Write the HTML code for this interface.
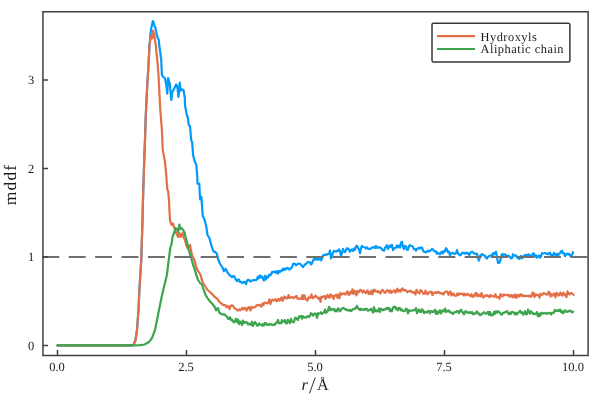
<!DOCTYPE html>
<html><head><meta charset="utf-8"><title>mddf</title>
<style>html,body{margin:0;padding:0;background:#fff;width:600px;height:400px;overflow:hidden}
svg{display:block;will-change:transform}
text{font-family:"Liberation Serif",serif;text-rendering:geometricPrecision}</style></head>
<body>
<svg width="600" height="400" viewBox="0 0 600 400">
<rect x="0" y="0" width="600" height="400" fill="#fff"/>
<g fill="none" stroke-linejoin="round" stroke-linecap="round" stroke-width="2.20">
<path d="M57.50 345.40 L132.00 345.40 L133.50 345.00 L135.50 340.00 L137.00 330.00 L138.50 310.00 L139.40 290.00 L141.25 260.00 L141.90 240.00 L142.50 220.00 L143.10 195.00 L144.40 155.00 L145.00 140.00 L145.60 120.00 L146.25 105.00 L147.30 85.00 L148.50 65.00 L149.00 55.00 L149.50 45.00 L150.00 40.00 L150.40 35.00 L150.90 30.00 L152.00 25.00 L152.80 21.20 L153.50 22.00 L154.50 26.00 L155.50 28.00 L156.20 32.00 L157.00 36.00 L158.00 38.50 L158.80 40.00 L159.20 45.00 L160.00 50.00 L160.60 55.00 L161.25 60.00 L161.90 75.00 L163.10 76.90 L165.00 78.10 L166.25 85.00 L167.25 93.75 L168.10 78.10 L169.75 83.75 L171.25 100.00 L172.50 91.25 L173.75 89.40 L175.00 86.90 L176.25 84.40 L177.25 86.25 L178.50 96.90 L179.75 82.50 L180.60 90.60 L181.90 89.40 L183.50 90.00 L184.75 97.50 L185.00 105.00 L186.90 115.60 L187.75 116.90 L188.75 125.00 L190.00 126.25 L191.25 140.60 L192.10 141.90 L193.10 155.00 L194.25 159.80 L196.30 165.00 L197.20 175.00 L197.50 183.60 L199.25 183.60 L200.10 199.40 L201.40 196.80 L202.75 216.00 L204.50 219.50 L206.20 226.00 L207.50 235.00 L209.40 238.00 L211.25 245.00 L213.50 251.50 L215.00 251.90 L216.90 253.75 L218.00 258.75 L220.00 263.75 L222.50 267.50 L224.00 271.25 L225.60 268.75 L227.50 272.50 L230.00 275.60 L231.00 276.24 L232.00 277.11 L233.00 276.11 L234.00 276.03 L235.00 278.03 L236.00 279.58 L237.00 281.20 L238.00 279.51 L239.00 279.70 L240.00 281.96 L241.00 281.82 L242.00 282.98 L243.00 282.63 L244.00 281.85 L245.00 281.98 L246.00 284.16 L247.00 280.64 L248.00 279.95 L249.00 279.85 L250.00 281.35 L251.00 281.14 L252.00 280.39 L253.00 280.30 L254.00 280.15 L255.00 280.09 L256.00 280.24 L257.00 279.09 L258.00 276.59 L259.00 278.34 L260.00 275.48 L261.00 277.21 L262.00 276.39 L263.00 279.15 L264.00 280.47 L265.00 275.81 L266.00 279.42 L267.00 276.59 L268.00 277.48 L269.00 274.80 L270.00 275.31 L271.00 274.52 L272.00 272.03 L273.00 271.87 L274.00 272.10 L275.00 271.49 L276.00 272.82 L277.00 271.21 L278.00 273.64 L279.00 271.00 L280.00 271.94 L281.00 270.51 L282.00 270.72 L283.00 268.67 L284.00 270.01 L285.00 268.63 L286.00 269.27 L287.00 267.89 L288.00 268.07 L289.00 269.22 L290.00 269.50 L291.00 267.83 L292.00 267.52 L293.00 264.02 L294.00 263.69 L295.00 263.84 L296.00 265.28 L297.00 264.58 L298.00 263.93 L299.00 263.65 L300.00 263.74 L301.00 264.72 L302.00 265.95 L303.00 267.11 L304.00 265.58 L305.00 264.65 L306.00 263.64 L307.00 263.08 L308.00 262.08 L309.00 262.02 L310.00 262.37 L311.00 264.47 L312.00 263.49 L313.00 260.71 L314.00 258.99 L315.00 259.72 L316.00 259.37 L317.00 256.86 L318.00 259.93 L319.00 259.28 L320.00 257.68 L321.00 260.47 L322.00 258.79 L323.00 255.37 L324.00 255.14 L325.00 254.62 L326.00 254.87 L327.00 254.46 L328.00 253.81 L329.00 253.85 L330.00 250.49 L331.00 258.29 L332.00 256.41 L333.00 252.81 L334.00 250.83 L335.00 251.23 L336.00 251.64 L337.00 250.93 L338.00 250.95 L339.00 249.32 L340.00 251.25 L341.00 255.65 L342.00 252.97 L343.00 248.88 L344.00 251.32 L345.00 252.08 L346.00 250.32 L347.00 248.24 L348.00 248.59 L349.00 249.38 L350.00 251.81 L351.00 250.02 L352.00 249.51 L353.00 250.96 L354.00 248.56 L355.00 249.74 L356.00 246.40 L357.00 245.78 L358.00 247.90 L359.00 249.52 L360.00 253.15 L361.00 248.40 L362.00 245.95 L363.00 246.97 L364.00 247.23 L365.00 247.47 L366.00 248.43 L367.00 247.34 L368.00 248.77 L369.00 248.82 L370.00 249.17 L371.00 248.38 L372.00 247.45 L373.00 247.63 L374.00 247.03 L375.00 248.02 L376.00 245.89 L377.00 247.85 L378.00 247.70 L379.00 247.07 L380.00 247.77 L381.00 247.75 L382.00 249.90 L383.00 249.81 L384.00 250.78 L385.00 247.85 L386.00 246.82 L387.00 245.16 L388.00 248.89 L389.00 247.43 L390.00 245.39 L391.00 246.94 L392.00 244.91 L393.00 250.12 L394.00 248.24 L395.00 248.17 L396.00 247.42 L397.00 245.46 L398.00 247.35 L399.00 245.69 L400.00 247.60 L401.00 242.66 L402.00 241.69 L403.00 247.15 L404.00 249.04 L405.00 245.82 L406.00 246.47 L407.00 249.88 L408.00 249.60 L409.00 246.26 L410.00 245.06 L411.00 245.80 L412.00 246.04 L413.00 247.05 L414.00 249.24 L415.00 248.94 L416.00 250.57 L417.00 248.68 L418.00 248.68 L419.00 247.68 L420.00 248.38 L421.00 247.59 L422.00 247.52 L423.00 250.50 L424.00 251.84 L425.00 251.84 L426.00 252.49 L427.00 251.57 L428.00 250.68 L429.00 251.49 L430.00 251.03 L431.00 250.03 L432.00 249.19 L433.00 249.35 L434.00 251.01 L435.00 251.51 L436.00 251.41 L437.00 253.83 L438.00 252.82 L439.00 253.46 L440.00 254.34 L441.00 252.54 L442.00 251.63 L443.00 253.35 L444.00 250.91 L445.00 251.32 L446.00 248.18 L447.00 249.42 L448.00 252.51 L449.00 251.77 L450.00 255.36 L451.00 253.45 L452.00 252.84 L453.00 252.92 L454.00 253.89 L455.00 253.63 L456.00 253.26 L457.00 250.09 L458.00 253.66 L459.00 254.37 L460.00 255.39 L461.00 254.83 L462.00 252.64 L463.00 253.24 L464.00 252.83 L465.00 253.78 L466.00 252.69 L467.00 253.42 L468.00 252.99 L469.00 255.00 L470.00 253.79 L471.00 251.98 L472.00 251.73 L473.00 252.45 L474.00 253.38 L475.00 253.65 L476.00 254.05 L477.00 253.64 L478.00 257.99 L479.00 260.48 L480.00 256.04 L481.00 254.94 L482.00 254.04 L483.00 254.81 L484.00 255.60 L485.00 255.63 L486.00 258.02 L487.00 258.53 L488.00 256.93 L489.00 256.27 L490.00 255.62 L491.00 255.30 L492.00 256.99 L493.00 253.00 L494.00 254.35 L495.00 253.02 L496.00 251.78 L497.00 257.17 L498.00 262.88 L499.00 263.06 L500.00 261.59 L501.00 257.38 L502.00 254.12 L503.00 255.42 L504.00 254.38 L505.00 254.27 L506.00 255.19 L507.00 256.38 L508.00 255.58 L509.00 256.00 L510.00 257.11 L511.00 258.36 L512.00 258.21 L513.00 254.24 L514.00 255.65 L515.00 255.70 L516.00 255.35 L517.00 257.34 L518.00 258.34 L519.00 258.92 L520.00 258.05 L521.00 255.78 L522.00 258.32 L523.00 256.64 L524.00 255.87 L525.00 254.95 L526.00 255.68 L527.00 254.68 L528.00 255.38 L529.00 254.40 L530.00 255.39 L531.00 256.23 L532.00 256.11 L533.00 253.41 L534.00 253.53 L535.00 256.34 L536.00 255.31 L537.00 257.73 L538.00 256.32 L539.00 255.52 L540.00 257.69 L541.00 256.29 L542.00 253.12 L543.00 253.47 L544.00 253.26 L545.00 253.02 L546.00 253.63 L547.00 253.66 L548.00 254.31 L549.00 253.27 L550.00 252.70 L551.00 255.64 L552.00 255.00 L553.00 255.21 L554.00 252.92 L555.00 254.08 L556.00 255.57 L557.00 253.96 L558.00 256.10 L559.00 253.61 L560.00 253.40 L561.00 251.62 L562.00 250.72 L563.00 253.25 L564.00 253.20 L565.00 256.11 L566.00 254.72 L567.00 253.62 L568.00 254.31 L569.00 253.78 L570.00 255.73 L571.00 255.76 L572.00 254.81 L573.00 252.26" stroke="#009AFA"/>
<path d="M57.50 345.40 L132.00 345.40 L133.50 345.00 L135.50 340.00 L137.00 330.00 L138.50 310.00 L139.40 290.00 L141.25 260.00 L141.90 240.00 L142.50 220.00 L143.10 195.00 L144.40 155.00 L145.00 140.00 L145.60 120.00 L146.25 105.00 L147.30 85.00 L148.50 65.00 L149.00 55.00 L149.50 45.00 L150.00 42.00 L150.80 36.50 L151.50 35.50 L152.20 38.50 L153.00 30.50 L154.00 34.00 L155.00 40.00 L156.00 47.00 L156.70 55.00 L157.50 62.00 L158.50 75.00 L159.50 95.00 L160.30 110.00 L161.90 130.00 L162.75 150.00 L165.00 162.00 L166.25 175.00 L167.25 189.50 L168.10 191.00 L169.00 200.00 L169.40 210.00 L170.00 220.00 L171.00 224.00 L171.90 225.00 L173.10 223.50 L173.75 226.00 L174.40 228.00 L175.60 232.00 L177.25 235.00 L178.10 237.00 L179.40 233.00 L180.60 237.00 L182.50 233.00 L183.75 238.00 L185.00 240.00 L186.25 245.00 L187.50 248.00 L190.00 245.00 L191.90 255.00 L194.40 260.00 L195.60 265.00 L197.50 270.00 L199.40 273.00 L200.60 275.00 L201.90 280.00 L203.00 283.00 L205.00 286.00 L207.50 290.00 L210.00 292.00 L212.50 294.40 L215.00 297.20 L217.50 299.00 L219.40 301.90 L222.50 304.40 L223.50 305.18 L224.50 305.00 L225.50 305.11 L226.50 307.25 L227.50 306.34 L228.50 306.15 L229.50 309.11 L230.50 306.32 L231.50 305.44 L232.50 305.41 L233.50 306.64 L234.50 308.30 L235.50 308.71 L236.50 309.28 L237.50 310.41 L238.50 310.44 L239.50 309.27 L240.50 310.23 L241.50 309.28 L242.50 307.61 L243.50 309.35 L244.50 308.28 L245.50 307.83 L246.50 310.60 L247.50 308.88 L248.50 307.11 L249.50 307.53 L250.50 310.51 L251.50 306.87 L252.50 307.91 L253.50 307.51 L254.50 307.12 L255.50 306.97 L256.50 305.31 L257.50 305.09 L258.50 305.24 L259.50 304.73 L260.50 306.01 L261.50 306.73 L262.50 303.28 L263.50 304.92 L264.50 302.66 L265.50 302.79 L266.50 303.13 L267.50 303.34 L268.50 302.37 L269.50 299.26 L270.50 303.97 L271.50 300.93 L272.50 299.59 L273.50 300.47 L274.50 299.95 L275.50 299.24 L276.50 301.35 L277.50 300.85 L278.50 298.80 L279.50 300.58 L280.50 299.62 L281.50 297.36 L282.50 300.88 L283.50 298.65 L284.50 296.52 L285.50 298.32 L286.50 297.59 L287.50 298.40 L288.50 295.04 L289.50 297.89 L290.50 297.61 L291.50 297.29 L292.50 297.18 L293.50 298.10 L294.50 297.32 L295.50 296.72 L296.50 295.81 L297.50 298.74 L298.50 298.93 L299.50 298.38 L300.50 298.42 L301.50 299.27 L302.50 295.10 L303.50 298.94 L304.50 295.33 L305.50 298.88 L306.50 299.73 L307.50 300.62 L308.50 297.28 L309.50 298.24 L310.50 297.41 L311.50 294.45 L312.50 298.23 L313.50 297.12 L314.50 297.11 L315.50 295.75 L316.50 297.00 L317.50 297.22 L318.50 298.86 L319.50 297.62 L320.50 301.83 L321.50 296.63 L322.50 296.76 L323.50 296.98 L324.50 295.92 L325.50 298.88 L326.50 297.60 L327.50 294.93 L328.50 296.61 L329.50 297.85 L330.50 294.33 L331.50 296.28 L332.50 295.65 L333.50 298.92 L334.50 296.27 L335.50 295.06 L336.50 294.74 L337.50 297.85 L338.50 294.63 L339.50 298.13 L340.50 292.88 L341.50 294.43 L342.50 294.12 L343.50 293.26 L344.50 293.66 L345.50 294.61 L346.50 292.59 L347.50 291.35 L348.50 294.78 L349.50 294.71 L350.50 291.75 L351.50 293.06 L352.50 289.27 L353.50 294.03 L354.50 290.91 L355.50 291.89 L356.50 295.39 L357.50 290.80 L358.50 292.41 L359.50 290.89 L360.50 289.81 L361.50 290.70 L362.50 292.57 L363.50 290.47 L364.50 291.39 L365.50 293.11 L366.50 291.92 L367.50 290.38 L368.50 294.06 L369.50 292.23 L370.50 293.90 L371.50 290.65 L372.50 294.23 L373.50 290.21 L374.50 289.67 L375.50 291.38 L376.50 291.40 L377.50 292.19 L378.50 291.06 L379.50 292.59 L380.50 293.46 L381.50 290.80 L382.50 289.80 L383.50 291.03 L384.50 292.60 L385.50 292.54 L386.50 290.97 L387.50 290.08 L388.50 291.31 L389.50 292.55 L390.50 290.28 L391.50 292.86 L392.50 291.38 L393.50 291.40 L394.50 290.12 L395.50 292.67 L396.50 290.86 L397.50 288.77 L398.50 291.74 L399.50 290.04 L400.50 291.48 L401.50 289.28 L402.50 288.31 L403.50 290.51 L404.50 290.25 L405.50 289.88 L406.50 291.07 L407.50 292.22 L408.50 291.29 L409.50 291.16 L410.50 290.62 L411.50 292.19 L412.50 291.87 L413.50 292.86 L414.50 292.16 L415.50 294.57 L416.50 289.78 L417.50 291.86 L418.50 292.72 L419.50 293.28 L420.50 290.16 L421.50 290.66 L422.50 292.29 L423.50 293.82 L424.50 293.96 L425.50 290.63 L426.50 292.93 L427.50 294.43 L428.50 293.06 L429.50 291.80 L430.50 292.35 L431.50 291.67 L432.50 295.13 L433.50 293.16 L434.50 292.88 L435.50 292.24 L436.50 293.15 L437.50 292.08 L438.50 291.93 L439.50 293.11 L440.50 292.80 L441.50 293.65 L442.50 293.19 L443.50 294.49 L444.50 292.82 L445.50 291.80 L446.50 291.35 L447.50 291.99 L448.50 294.80 L449.50 292.67 L450.50 291.51 L451.50 295.42 L452.50 294.81 L453.50 293.39 L454.50 295.57 L455.50 295.76 L456.50 295.60 L457.50 293.31 L458.50 295.05 L459.50 293.43 L460.50 293.95 L461.50 293.99 L462.50 293.58 L463.50 295.31 L464.50 293.59 L465.50 295.41 L466.50 294.79 L467.50 293.74 L468.50 294.73 L469.50 295.37 L470.50 295.98 L471.50 294.19 L472.50 296.85 L473.50 295.37 L474.50 296.31 L475.50 292.94 L476.50 293.37 L477.50 296.40 L478.50 294.57 L479.50 295.52 L480.50 296.53 L481.50 293.11 L482.50 295.65 L483.50 297.64 L484.50 296.18 L485.50 295.29 L486.50 295.95 L487.50 295.26 L488.50 296.31 L489.50 297.04 L490.50 295.08 L491.50 296.17 L492.50 295.85 L493.50 296.47 L494.50 296.63 L495.50 294.23 L496.50 297.33 L497.50 297.10 L498.50 296.87 L499.50 298.68 L500.50 294.14 L501.50 295.67 L502.50 296.48 L503.50 294.54 L504.50 295.04 L505.50 294.90 L506.50 295.14 L507.50 295.04 L508.50 294.65 L509.50 296.80 L510.50 295.77 L511.50 294.97 L512.50 297.35 L513.50 295.31 L514.50 297.23 L515.50 294.43 L516.50 297.90 L517.50 295.47 L518.50 294.81 L519.50 296.59 L520.50 294.30 L521.50 294.64 L522.50 296.30 L523.50 295.27 L524.50 296.34 L525.50 295.92 L526.50 295.99 L527.50 295.74 L528.50 296.42 L529.50 295.41 L530.50 296.77 L531.50 296.48 L532.50 292.59 L533.50 292.78 L534.50 297.03 L535.50 294.35 L536.50 295.13 L537.50 294.69 L538.50 295.15 L539.50 297.63 L540.50 293.77 L541.50 294.74 L542.50 294.61 L543.50 293.14 L544.50 293.37 L545.50 294.11 L546.50 294.40 L547.50 294.88 L548.50 291.80 L549.50 292.35 L550.50 296.58 L551.50 294.22 L552.50 295.56 L553.50 293.96 L554.50 293.61 L555.50 297.33 L556.50 292.98 L557.50 293.44 L558.50 295.54 L559.50 294.71 L560.50 292.57 L561.50 294.93 L562.50 295.67 L563.50 292.68 L564.50 293.90 L565.50 295.62 L566.50 297.04 L567.50 291.47 L568.50 293.56 L569.50 294.45 L570.50 293.18 L571.50 293.15 L572.50 293.63 L573.50 294.92" stroke="#E36F47"/>
<path d="M57.50 345.40 L132.50 345.40 L140.00 345.20 L144.50 344.50 L149.00 342.00 L152.00 338.00 L155.00 330.00 L158.00 315.00 L161.00 300.00 L163.20 290.00 L166.90 275.00 L168.10 265.00 L169.40 255.00 L170.25 248.00 L171.25 245.00 L171.90 242.00 L172.50 237.00 L174.40 232.00 L175.60 228.00 L176.90 229.00 L178.10 232.00 L179.40 224.50 L180.00 229.00 L181.25 228.00 L183.10 230.00 L184.40 232.00 L185.60 237.00 L186.50 240.00 L188.75 250.00 L191.25 258.00 L193.10 265.00 L195.00 270.00 L196.25 275.00 L198.10 280.00 L200.00 283.00 L201.90 284.50 L203.75 290.00 L205.60 295.00 L207.50 298.10 L210.00 301.50 L212.50 304.00 L215.00 307.50 L216.00 310.45 L217.00 308.44 L218.00 308.12 L219.00 311.79 L220.00 313.27 L221.00 313.60 L222.00 314.42 L223.00 314.25 L224.00 314.28 L225.00 314.72 L226.00 316.04 L227.00 316.46 L228.00 318.79 L229.00 319.01 L230.00 317.18 L231.00 320.12 L232.00 319.55 L233.00 321.43 L234.00 322.32 L235.00 321.46 L236.00 318.73 L237.00 322.23 L238.00 319.65 L239.00 324.07 L240.00 321.48 L241.00 322.27 L242.00 325.09 L243.00 320.57 L244.00 323.10 L245.00 321.83 L246.00 322.69 L247.00 322.45 L248.00 324.53 L249.00 323.37 L250.00 324.35 L251.00 324.79 L252.00 321.74 L253.00 325.88 L254.00 323.77 L255.00 321.96 L256.00 323.34 L257.00 325.41 L258.00 325.64 L259.00 323.48 L260.00 324.58 L261.00 324.70 L262.00 325.69 L263.00 324.09 L264.00 325.50 L265.00 322.97 L266.00 323.15 L267.00 324.93 L268.00 324.96 L269.00 323.89 L270.00 324.70 L271.00 324.10 L272.00 324.78 L273.00 325.23 L274.00 324.31 L275.00 324.64 L276.00 322.87 L277.00 322.49 L278.00 319.96 L279.00 323.45 L280.00 322.79 L281.00 323.40 L282.00 320.15 L283.00 321.93 L284.00 321.77 L285.00 320.06 L286.00 323.31 L287.00 323.39 L288.00 319.74 L289.00 321.68 L290.00 323.04 L291.00 318.90 L292.00 321.58 L293.00 322.14 L294.00 322.27 L295.00 317.74 L296.00 317.78 L297.00 319.11 L298.00 320.07 L299.00 316.44 L300.00 316.75 L301.00 316.01 L302.00 318.70 L303.00 316.23 L304.00 317.47 L305.00 317.31 L306.00 317.74 L307.00 316.49 L308.00 316.12 L309.00 316.95 L310.00 315.79 L311.00 313.22 L312.00 313.94 L313.00 315.61 L314.00 314.34 L315.00 313.43 L316.00 314.03 L317.00 317.92 L318.00 313.24 L319.00 313.75 L320.00 313.51 L321.00 312.24 L322.00 313.89 L323.00 313.14 L324.00 312.23 L325.00 309.60 L326.00 312.85 L327.00 311.96 L328.00 310.60 L329.00 306.89 L330.00 310.17 L331.00 308.56 L332.00 309.81 L333.00 309.36 L334.00 308.87 L335.00 311.25 L336.00 309.98 L337.00 311.41 L338.00 308.40 L339.00 309.37 L340.00 311.37 L341.00 309.89 L342.00 308.38 L343.00 308.06 L344.00 308.36 L345.00 308.94 L346.00 310.07 L347.00 309.45 L348.00 310.36 L349.00 310.57 L350.00 309.71 L351.00 311.17 L352.00 310.34 L353.00 309.00 L354.00 308.93 L355.00 309.03 L356.00 307.36 L357.00 305.86 L358.00 308.55 L359.00 308.67 L360.00 310.19 L361.00 308.67 L362.00 309.65 L363.00 309.83 L364.00 308.97 L365.00 309.89 L366.00 308.70 L367.00 309.12 L368.00 310.79 L369.00 310.27 L370.00 309.78 L371.00 308.77 L372.00 310.78 L373.00 312.55 L374.00 307.01 L375.00 311.35 L376.00 310.17 L377.00 311.28 L378.00 311.31 L379.00 308.33 L380.00 311.95 L381.00 308.77 L382.00 309.16 L383.00 310.27 L384.00 309.25 L385.00 309.66 L386.00 308.55 L387.00 307.79 L388.00 309.20 L389.00 307.78 L390.00 311.09 L391.00 309.69 L392.00 311.30 L393.00 307.83 L394.00 306.78 L395.00 306.58 L396.00 309.18 L397.00 308.03 L398.00 310.29 L399.00 307.93 L400.00 308.09 L401.00 310.37 L402.00 309.53 L403.00 311.01 L404.00 311.24 L405.00 310.69 L406.00 308.65 L407.00 309.17 L408.00 313.41 L409.00 310.14 L410.00 310.89 L411.00 310.72 L412.00 310.58 L413.00 310.44 L414.00 309.99 L415.00 310.12 L416.00 308.18 L417.00 313.17 L418.00 310.86 L419.00 309.32 L420.00 311.83 L421.00 312.05 L422.00 309.24 L423.00 310.49 L424.00 313.20 L425.00 311.94 L426.00 311.80 L427.00 312.58 L428.00 311.09 L429.00 310.89 L430.00 313.42 L431.00 311.07 L432.00 311.23 L433.00 312.19 L434.00 311.40 L435.00 309.71 L436.00 313.89 L437.00 311.28 L438.00 313.78 L439.00 312.07 L440.00 310.19 L441.00 313.47 L442.00 311.18 L443.00 310.28 L444.00 311.39 L445.00 308.58 L446.00 312.03 L447.00 310.57 L448.00 311.25 L449.00 310.44 L450.00 312.58 L451.00 312.21 L452.00 313.22 L453.00 314.04 L454.00 312.25 L455.00 312.04 L456.00 312.37 L457.00 310.93 L458.00 311.33 L459.00 313.12 L460.00 311.01 L461.00 309.62 L462.00 311.79 L463.00 312.64 L464.00 314.31 L465.00 311.45 L466.00 311.20 L467.00 312.62 L468.00 312.33 L469.00 312.92 L470.00 311.95 L471.00 313.00 L472.00 312.07 L473.00 314.25 L474.00 313.41 L475.00 313.90 L476.00 312.65 L477.00 311.43 L478.00 313.45 L479.00 313.46 L480.00 315.10 L481.00 314.88 L482.00 313.51 L483.00 313.45 L484.00 312.16 L485.00 313.38 L486.00 313.67 L487.00 312.80 L488.00 311.87 L489.00 314.97 L490.00 312.00 L491.00 315.39 L492.00 314.72 L493.00 315.16 L494.00 311.95 L495.00 313.86 L496.00 311.22 L497.00 312.61 L498.00 311.10 L499.00 312.18 L500.00 312.51 L501.00 314.48 L502.00 314.67 L503.00 312.78 L504.00 312.92 L505.00 312.09 L506.00 311.85 L507.00 311.03 L508.00 313.14 L509.00 314.21 L510.00 312.41 L511.00 313.90 L512.00 311.90 L513.00 312.09 L514.00 312.71 L515.00 314.59 L516.00 312.72 L517.00 314.43 L518.00 312.95 L519.00 311.95 L520.00 310.76 L521.00 312.79 L522.00 312.14 L523.00 314.60 L524.00 313.98 L525.00 311.23 L526.00 314.49 L527.00 314.07 L528.00 309.54 L529.00 311.98 L530.00 313.67 L531.00 311.24 L532.00 312.37 L533.00 314.01 L534.00 313.64 L535.00 313.90 L536.00 314.08 L537.00 312.07 L538.00 316.33 L539.00 313.84 L540.00 315.93 L541.00 312.73 L542.00 313.77 L543.00 313.45 L544.00 312.76 L545.00 313.33 L546.00 313.22 L547.00 313.91 L548.00 313.22 L549.00 312.80 L550.00 313.28 L551.00 314.46 L552.00 312.58 L553.00 313.20 L554.00 312.51 L555.00 309.67 L556.00 310.98 L557.00 310.88 L558.00 310.18 L559.00 311.11 L560.00 309.53 L561.00 312.11 L562.00 311.01 L563.00 313.35 L564.00 312.28 L565.00 310.15 L566.00 311.56 L567.00 311.94 L568.00 311.03 L569.00 311.47 L570.00 310.56 L571.00 311.06 L572.00 312.41 L573.00 311.65" stroke="#3EA44E"/>
</g>
<line x1="42.3" y1="256.9" x2="588.1" y2="256.9" stroke="#707070" stroke-width="2.0" stroke-dasharray="17 9.4"/>
<path d="M42.95 11.7 H588.1 V355.4 H42.95 Z" fill="none" stroke="#404040" stroke-width="1.5"/>
<path d="M57.50 355.4 V350 M186.50 355.4 V350 M315.50 355.4 V350 M444.50 355.4 V350 M573.50 355.4 V350 M42.95 345.50 H48 M42.95 257.00 H48 M42.95 168.50 H48 M42.95 80.00 H48" stroke="#404040" stroke-width="1.5" fill="none"/>
<text x="57.00" y="371" font-size="12.5" text-anchor="middle" fill="#1a1a1a">0.0</text>
<text x="186.00" y="371" font-size="12.5" text-anchor="middle" fill="#1a1a1a">2.5</text>
<text x="315.00" y="371" font-size="12.5" text-anchor="middle" fill="#1a1a1a">5.0</text>
<text x="444.00" y="371" font-size="12.5" text-anchor="middle" fill="#1a1a1a">7.5</text>
<text x="573.00" y="371" font-size="12.5" text-anchor="middle" fill="#1a1a1a">10.0</text>
<text x="34.2" y="349.80" font-size="12.5" text-anchor="end" fill="#1a1a1a">0</text>
<text x="34.2" y="261.30" font-size="12.5" text-anchor="end" fill="#1a1a1a">1</text>
<text x="34.2" y="172.80" font-size="12.5" text-anchor="end" fill="#1a1a1a">2</text>
<text x="34.2" y="84.30" font-size="12.5" text-anchor="end" fill="#1a1a1a">3</text>
<text x="301.6" y="390.1" font-size="16.5" font-style="italic" fill="#1a1a1a">r</text>
<line x1="315.3" y1="377.4" x2="309.5" y2="393.4" stroke="#1a1a1a" stroke-width="0.9"/>
<text x="317.0" y="390.1" font-size="16.2" fill="#1a1a1a">Å</text>
<text transform="translate(15.6 163.6) rotate(-90)" x="0" y="0" font-size="17.5" letter-spacing="1.2" text-anchor="end" fill="#1a1a1a">mddf</text>
<rect x="432.0" y="23.3" width="137.9" height="38.6" rx="1.5" fill="#fff" stroke="#383838" stroke-width="1.5"/>
<line x1="437" y1="36.15" x2="475" y2="36.15" stroke="#E36F47" stroke-width="2.1"/>
<line x1="437" y1="49.05" x2="475" y2="49.05" stroke="#3EA44E" stroke-width="2.1"/>
<text x="480.5" y="40.8" font-size="12.4" letter-spacing="0.5" fill="#1a1a1a">Hydroxyls</text>
<text x="480.5" y="53.0" font-size="12.4" letter-spacing="0.5" fill="#1a1a1a">Aliphatic chain</text>
</svg>
</body></html>
